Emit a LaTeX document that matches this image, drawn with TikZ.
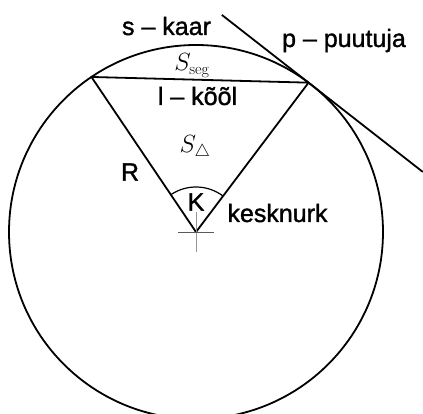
\documentclass[tikz,border=0pt]{standalone}
\usepackage{amsmath}
\usepackage{amssymb}
\usepackage{fontspec}
\newfontfamily\krfont[FakeBold=1.3]{Liberation Sans}
\usepackage{tikz}
\usetikzlibrary{calc}
\definecolor{krink}{RGB}{0,0,0}
\definecolor{krcross}{RGB}{90,90,90}
\definecolor{krvert}{RGB}{150,150,150}
\tikzset{
  lbl/.style={font=\fontsize{25}{30}\selectfont\krfont, inner sep=0pt, text=krink},
  mth/.style={font=\fontsize{23}{27}\selectfont, inner sep=0pt, text=krink},
  edge/.style={draw=krink, line width=1.8pt, line join=round},
  anglearc/.style={draw=krink, line width=1.2pt},
  crossh/.style={draw=krcross, line width=0.9pt},
  crossv/.style={draw=krvert, line width=0.9pt}
}
\begin{document}
\begin{tikzpicture}[x=1pt, y=1pt]
  \useasboundingbox (-196,-182) rectangle (227,232);
  % circle and chord
  \coordinate (O) at (0,0);
  \coordinate (A) at (124:187);
  \coordinate (B) at (53:187);
  \coordinate (T1) at ($(B)+(142:110)$);
  \coordinate (T2) at ($(B)+(-38:145)$);
  \draw[edge] (O) circle[radius=187pt];
  \draw[edge] (A) -- (B) -- (O) -- cycle;
  \draw[edge] (T1) -- (T2);
  % central angle
  \draw[anglearc] ($(O)+(53:45pt)$) arc[start angle=53, end angle=124, radius=45pt];
  \draw[crossv] (0,20) -- (0,-20);
  \draw[crossh] (-18,0) -- (18,0);
  % labels
  \node[lbl, anchor=base] (kaar) at (-29.5,197) {s \textendash{} kaar};
  \node[lbl, anchor=base] (puutuja) at (148,185) {p \textendash{} puutuja};
  \node[mth] (seg) at (-4,166) {$S_{\mathrm{seg}}$};
  \node[lbl, anchor=base] (kool) at (1.5,127) {l \textendash{} kõõl};
  \node[mth] (tri) at (-1,84) {$S_{\triangle}$};
  \node[lbl] (R) at (-66,60) {R};
  \node[lbl] (K) at (0,30) {K};
  \node[lbl, anchor=base] (kesk) at (81.5,10) {kesknurk};
\end{tikzpicture}
\end{document}
